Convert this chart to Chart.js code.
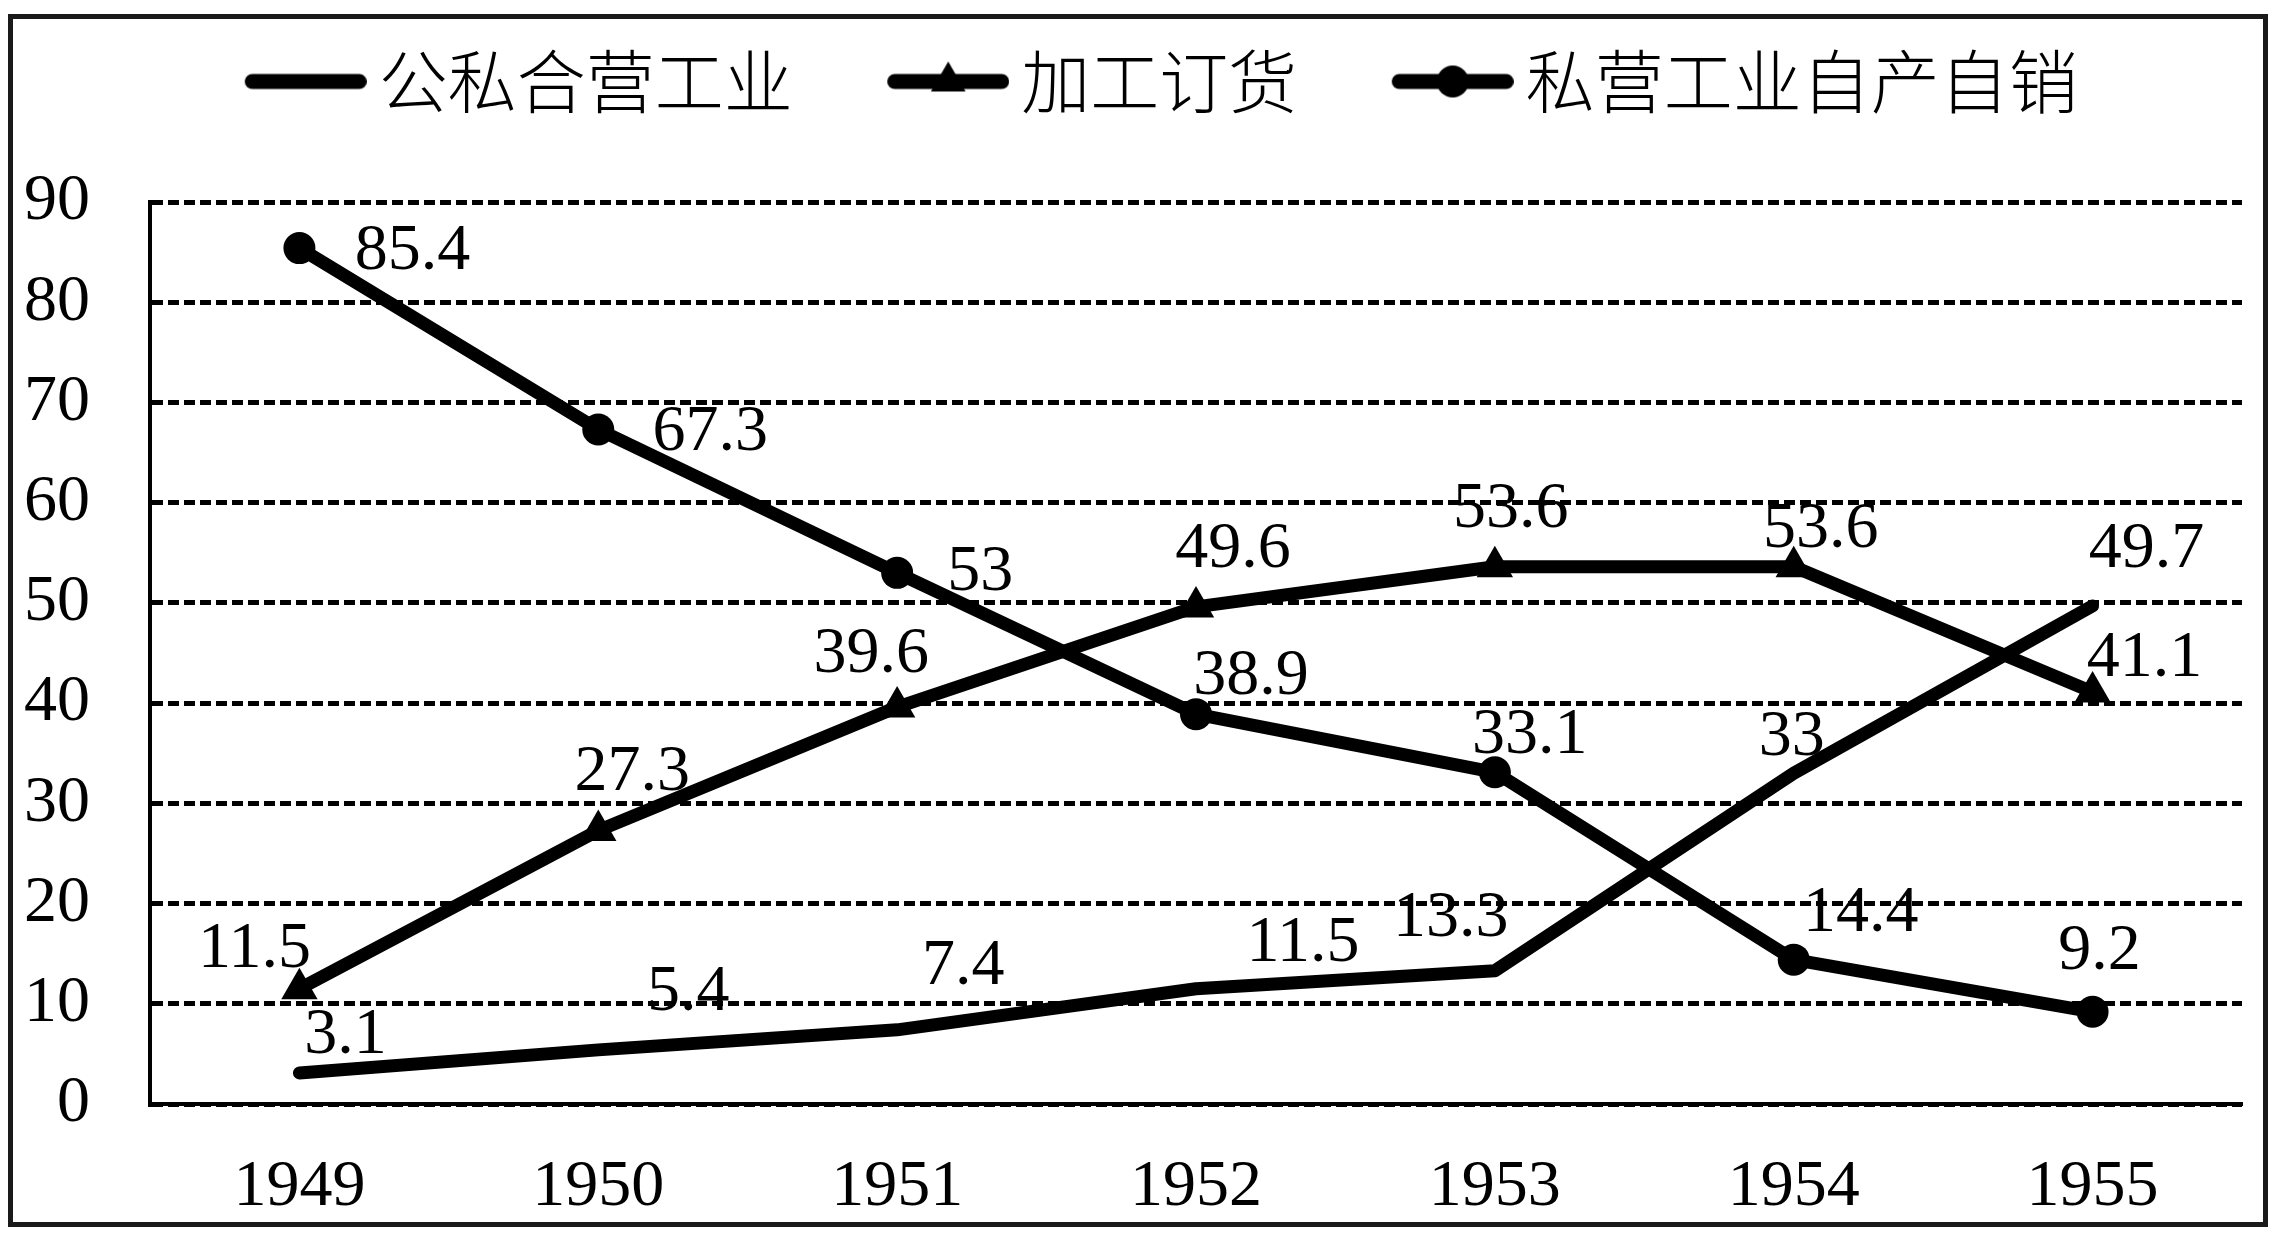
<!DOCTYPE html>
<html>
<head>
<meta charset="utf-8">
<script src="https://cdn.jsdelivr.net/npm/chart.js@4.4.1/dist/chart.umd.min.js"></script>
<style>
  html, body { margin: 0; padding: 0; background: #fff; }
  body { width: 2280px; height: 1238px; position: relative; overflow: hidden; }
  .chart-container {
    position: absolute;
    left: 8px; top: 14px;
    width: 2260px; height: 1213px;
    box-sizing: border-box;
    border: 5px solid #1a1a1a;
    background: #fff;
  }
</style>
</head>
<body>
<div class="chart-container">
  <canvas id="industryChart"></canvas>
</div>
<script>
// data
const years = ['1949', '1950', '1951', '1952', '1953', '1954', '1955'];
const seriesNames = ['公私合营工业', '加工订货', '私营工业自产自销'];
const jointVenture = [3.1, 5.4, 7.4, 11.5, 13.3, 33, 49.7];
const processingOrders = [11.5, 27.3, 39.6, 49.6, 53.6, 53.6, 41.1];
const privateSelfSales = [85.4, 67.3, 53, 38.9, 33.1, 14.4, 9.2];
const yMin = 0;
const yMax = 90;
const yStep = 10;

const serif = "'Liberation Serif', 'Times New Roman', serif";
const cjk = "'Noto Sans CJK SC', 'Noto Sans', sans-serif";

// legend sample: thick line with the series marker
const legendBoxWidth = 166;
function legendIcon(marker) {
    const c = document.createElement('canvas');
    c.width = legendBoxWidth + 45;
    c.height = 48;
    const g = c.getContext('2d');
    const cy = 24;
    g.strokeStyle = '#000';
    g.fillStyle = '#000';
    g.lineWidth = 15;
    g.lineCap = 'round';
    g.beginPath();
    g.moveTo(c.width - 122 + 7.5, cy);
    g.lineTo(c.width - 7.5, cy);
    g.stroke();
    const mx = c.width - 61;
    if (marker === 'circle') {
        g.beginPath();
        g.arc(mx, cy, 16, 0, Math.PI * 2);
        g.fill();
    } else if (marker === 'triangle') {
        const r = 20;
        g.beginPath();
        g.moveTo(mx, cy - r);
        g.lineTo(mx + r * Math.sin(Math.PI * 2 / 3), cy + r / 2);
        g.lineTo(mx - r * Math.sin(Math.PI * 2 / 3), cy + r / 2);
        g.closePath();
        g.fill();
    }
    return c;
}
const legendIcons = [legendIcon('none'), legendIcon('triangle'), legendIcon('circle')];

// push the plot area down below the legend
const legendGap = {
    id: 'legendGap',
    beforeInit(chart) {
        const originalFit = chart.legend.fit;
        chart.legend.fit = function fit() {
            originalFit.bind(chart.legend)();
            this.height += 76;
        };
    }
};

// value labels next to each point
const valueLabels = {
    id: 'valueLabels',
    afterDatasetsDraw(chart, args, opts) {
        const ctx = chart.ctx;
        ctx.save();
        ctx.font = '66px ' + serif;
        ctx.fillStyle = '#000';
        ctx.textAlign = 'center';
        ctx.textBaseline = 'middle';
        chart.data.datasets.forEach((ds, i) => {
            const meta = chart.getDatasetMeta(i);
            meta.data.forEach((pt, j) => {
                const off = opts.offsets[i][j];
                ctx.fillText(String(ds.data[j]), pt.x + off[0], pt.y + off[1]);
            });
        });
        ctx.restore();
    }
};

document.addEventListener('DOMContentLoaded', () => {
    const ctx = document.getElementById('industryChart').getContext('2d');
    new Chart(ctx, {
        type: 'line',
        data: {
            labels: years,
            datasets: [{
                label: seriesNames[0],
                data: jointVenture,
                borderColor: '#000',
                backgroundColor: '#000',
                borderWidth: 13,
                borderCapStyle: 'round',
                borderJoinStyle: 'round',
                pointRadius: 0,
                tension: 0
            }, {
                label: seriesNames[1],
                data: processingOrders,
                borderColor: '#000',
                backgroundColor: '#000',
                borderWidth: 13,
                borderJoinStyle: 'round',
                pointStyle: 'triangle',
                pointRadius: 21,
                pointBorderWidth: 0,
                pointBackgroundColor: '#000',
                tension: 0
            }, {
                label: seriesNames[2],
                data: privateSelfSales,
                borderColor: '#000',
                backgroundColor: '#000',
                borderWidth: 13,
                borderJoinStyle: 'round',
                pointStyle: 'circle',
                pointRadius: 16,
                pointBorderWidth: 0,
                pointBackgroundColor: '#000',
                tension: 0
            }]
        },
        options: {
            responsive: true,
            maintainAspectRatio: false,
            animation: false,
            layout: {
                padding: { top: 0, left: 0, right: 20, bottom: 0 }
            },
            scales: {
                x: {
                    offset: true,
                    grid: { display: false, drawTicks: false },
                    border: { display: true, color: '#000', width: 4 },
                    ticks: {
                        color: '#000',
                        padding: 44,
                        maxRotation: 0,
                        autoSkip: false,
                        font: { family: serif, size: 66 }
                    },
                    afterFit(scale) { scale.height = 118; }
                },
                y: {
                    min: yMin,
                    max: yMax,
                    grid: { color: '#000', lineWidth: 5, drawTicks: false },
                    border: { display: true, color: '#000', width: 4, dash: [11, 5] },
                    ticks: {
                        stepSize: yStep,
                        color: '#000',
                        padding: 60,
                        font: { family: serif, size: 66 }
                    },
                    afterFit(scale) { scale.width = 137; }
                }
            },
            plugins: {
                legend: {
                    position: 'top',
                    labels: {
                        usePointStyle: true,
                        pointStyleWidth: legendBoxWidth,
                        padding: 28,
                        color: '#000',
                        font: { family: cjk, size: 69, weight: '300' },
                        generateLabels(chart) {
                            const items = Chart.defaults.plugins.legend.labels.generateLabels(chart);
                            items.forEach((item, i) => { item.pointStyle = legendIcons[i]; });
                            return items;
                        }
                    }
                },
                tooltip: { enabled: false },
                valueLabels: {
                    offsets: [
                        [[46, -37], [90, -57], [66, -63], [107, -45], [-44, -52], [-2, -36], [54, -56]],
                        [[-45, -39], [34, -58], [-26, -52], [37, -57], [16, -57], [27, -37], [52, -33]],
                        [[113, 4], [112, 3], [83, 0], [55, -37], [35, -37], [67, -46], [7, -60]]
                    ]
                }
            }
        },
        plugins: [legendGap, valueLabels]
    });
});
</script>
</body>
</html>
